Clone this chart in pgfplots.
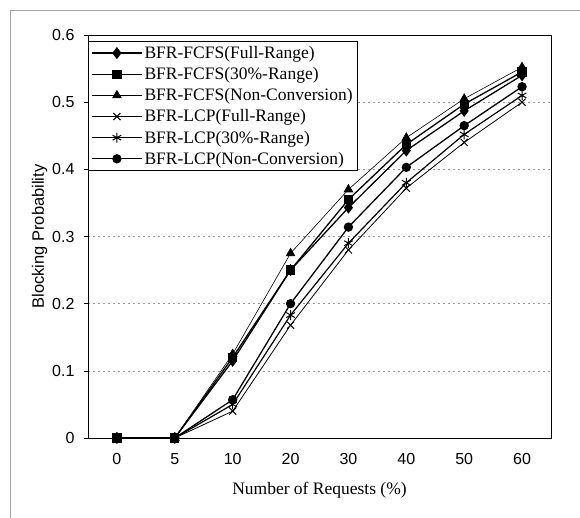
\documentclass[border=0pt]{standalone}
\usepackage{fontspec}
\setmainfont{Liberation Serif}
\newfontfamily\arialf{Liberation Sans}
\usepackage{pgfplots}
\pgfplotsset{compat=1.18}
\begin{document}
\begin{tikzpicture}
\path[use as bounding box] (-88pt,-80pt) rectangle (492pt,438pt);
\draw[gray!70, line width=0.6pt] (-78pt,-80pt) -- (-78pt,428pt) -- (492pt,428pt);
\begin{axis}[
  at={(0pt,0pt)}, anchor=south west,
  scale only axis, width=463pt, height=403pt,
  xmin=-0.5, xmax=7.5, ymin=0, ymax=0.6,
  xtick={0,...,7}, xticklabels={0,5,10,20,30,40,50,60},
  minor xtick={0.5,1.5,...,6.5},
  ytick={0,0.1,...,0.6},
  yticklabels={0,0.1,0.2,0.3,0.4,0.5,0.6},
  xtick pos=bottom, ytick pos=left,
  tick align=outside,
  major tick length=4pt, minor tick length=4pt,
  xtick style={draw=none},
  minor x tick style={yshift=4pt, black, line width=0.6pt},
  y tick style={black, line width=0.6pt},
  ymajorgrids,
  major y grid style={gray!80, dash pattern=on 2pt off 3pt, line width=0.6pt},
  axis line style={line width=0.8pt},
  /pgf/number format/assume math mode=true,
  tick label style={font=\arialf\fontsize{16}{16}\selectfont},
  xticklabel style={yshift=-8pt},
  yticklabel style={xshift=-6pt},
  xlabel={Number of Requests (\%)},
  xlabel style={font=\fontsize{17.5}{17.5}\selectfont, yshift=-10pt},
  ylabel={Blocking Probability},
  ylabel style={font=\arialf\fontsize{16.5}{16.5}\selectfont, yshift=-2pt},
  legend style={at={(6pt/463pt*1, 0.985)}, anchor=north west,
    font=\fontsize{17.5}{17.5}\selectfont, draw=black, line width=0.5pt,
    row sep=3.5pt, inner sep=3pt, cells={anchor=west}},
  legend cell align=left,
  legend image code/.code={\draw[mark repeat=2,mark phase=2,#1] plot coordinates {(0pt,0pt) (25pt,0pt) (50pt,0pt)};},
]
\addplot[black, line width=1.3pt, mark=diamond*, mark size=5pt] coordinates {(0,0) (1,0) (2,0.115) (3,0.25) (4,0.343) (5,0.428) (6,0.487) (7,0.54)};
\addlegendentry{BFR-FCFS(Full-Range)}
\addplot[black, line width=1.3pt, mark=square*, mark size=4pt] coordinates {(0,0) (1,0) (2,0.12) (3,0.25) (4,0.355) (5,0.437) (6,0.497) (7,0.545)};
\addlegendentry{BFR-FCFS(30\%-Range)}
\addplot[black, line width=0.6pt, mark=triangle*, mark size=5pt] coordinates {(0,0) (1,0) (2,0.125) (3,0.275) (4,0.37) (5,0.447) (6,0.505) (7,0.552)};
\addlegendentry{BFR-FCFS(Non-Conversion)}
\addplot[black, line width=0.8pt, mark=x, mark size=5pt, mark options={line width=1pt}] coordinates {(0,0) (1,0) (2,0.04) (3,0.168) (4,0.28) (5,0.372) (6,0.44) (7,0.5)};
\addlegendentry{BFR-LCP(Full-Range)}
\addplot[black, line width=1.2pt, mark=asterisk, mark size=5pt, mark options={line width=1pt}] coordinates {(0,0) (1,0) (2,0.05) (3,0.183) (4,0.29) (5,0.38) (6,0.452) (7,0.51)};
\addlegendentry{BFR-LCP(30\%-Range)}
\addplot[black, line width=1.3pt, mark=*, mark size=4pt] coordinates {(0,0) (1,0) (2,0.057) (3,0.2) (4,0.314) (5,0.403) (6,0.465) (7,0.523)};
\addlegendentry{BFR-LCP(Non-Conversion)}
\end{axis}
\end{tikzpicture}
\end{document}
